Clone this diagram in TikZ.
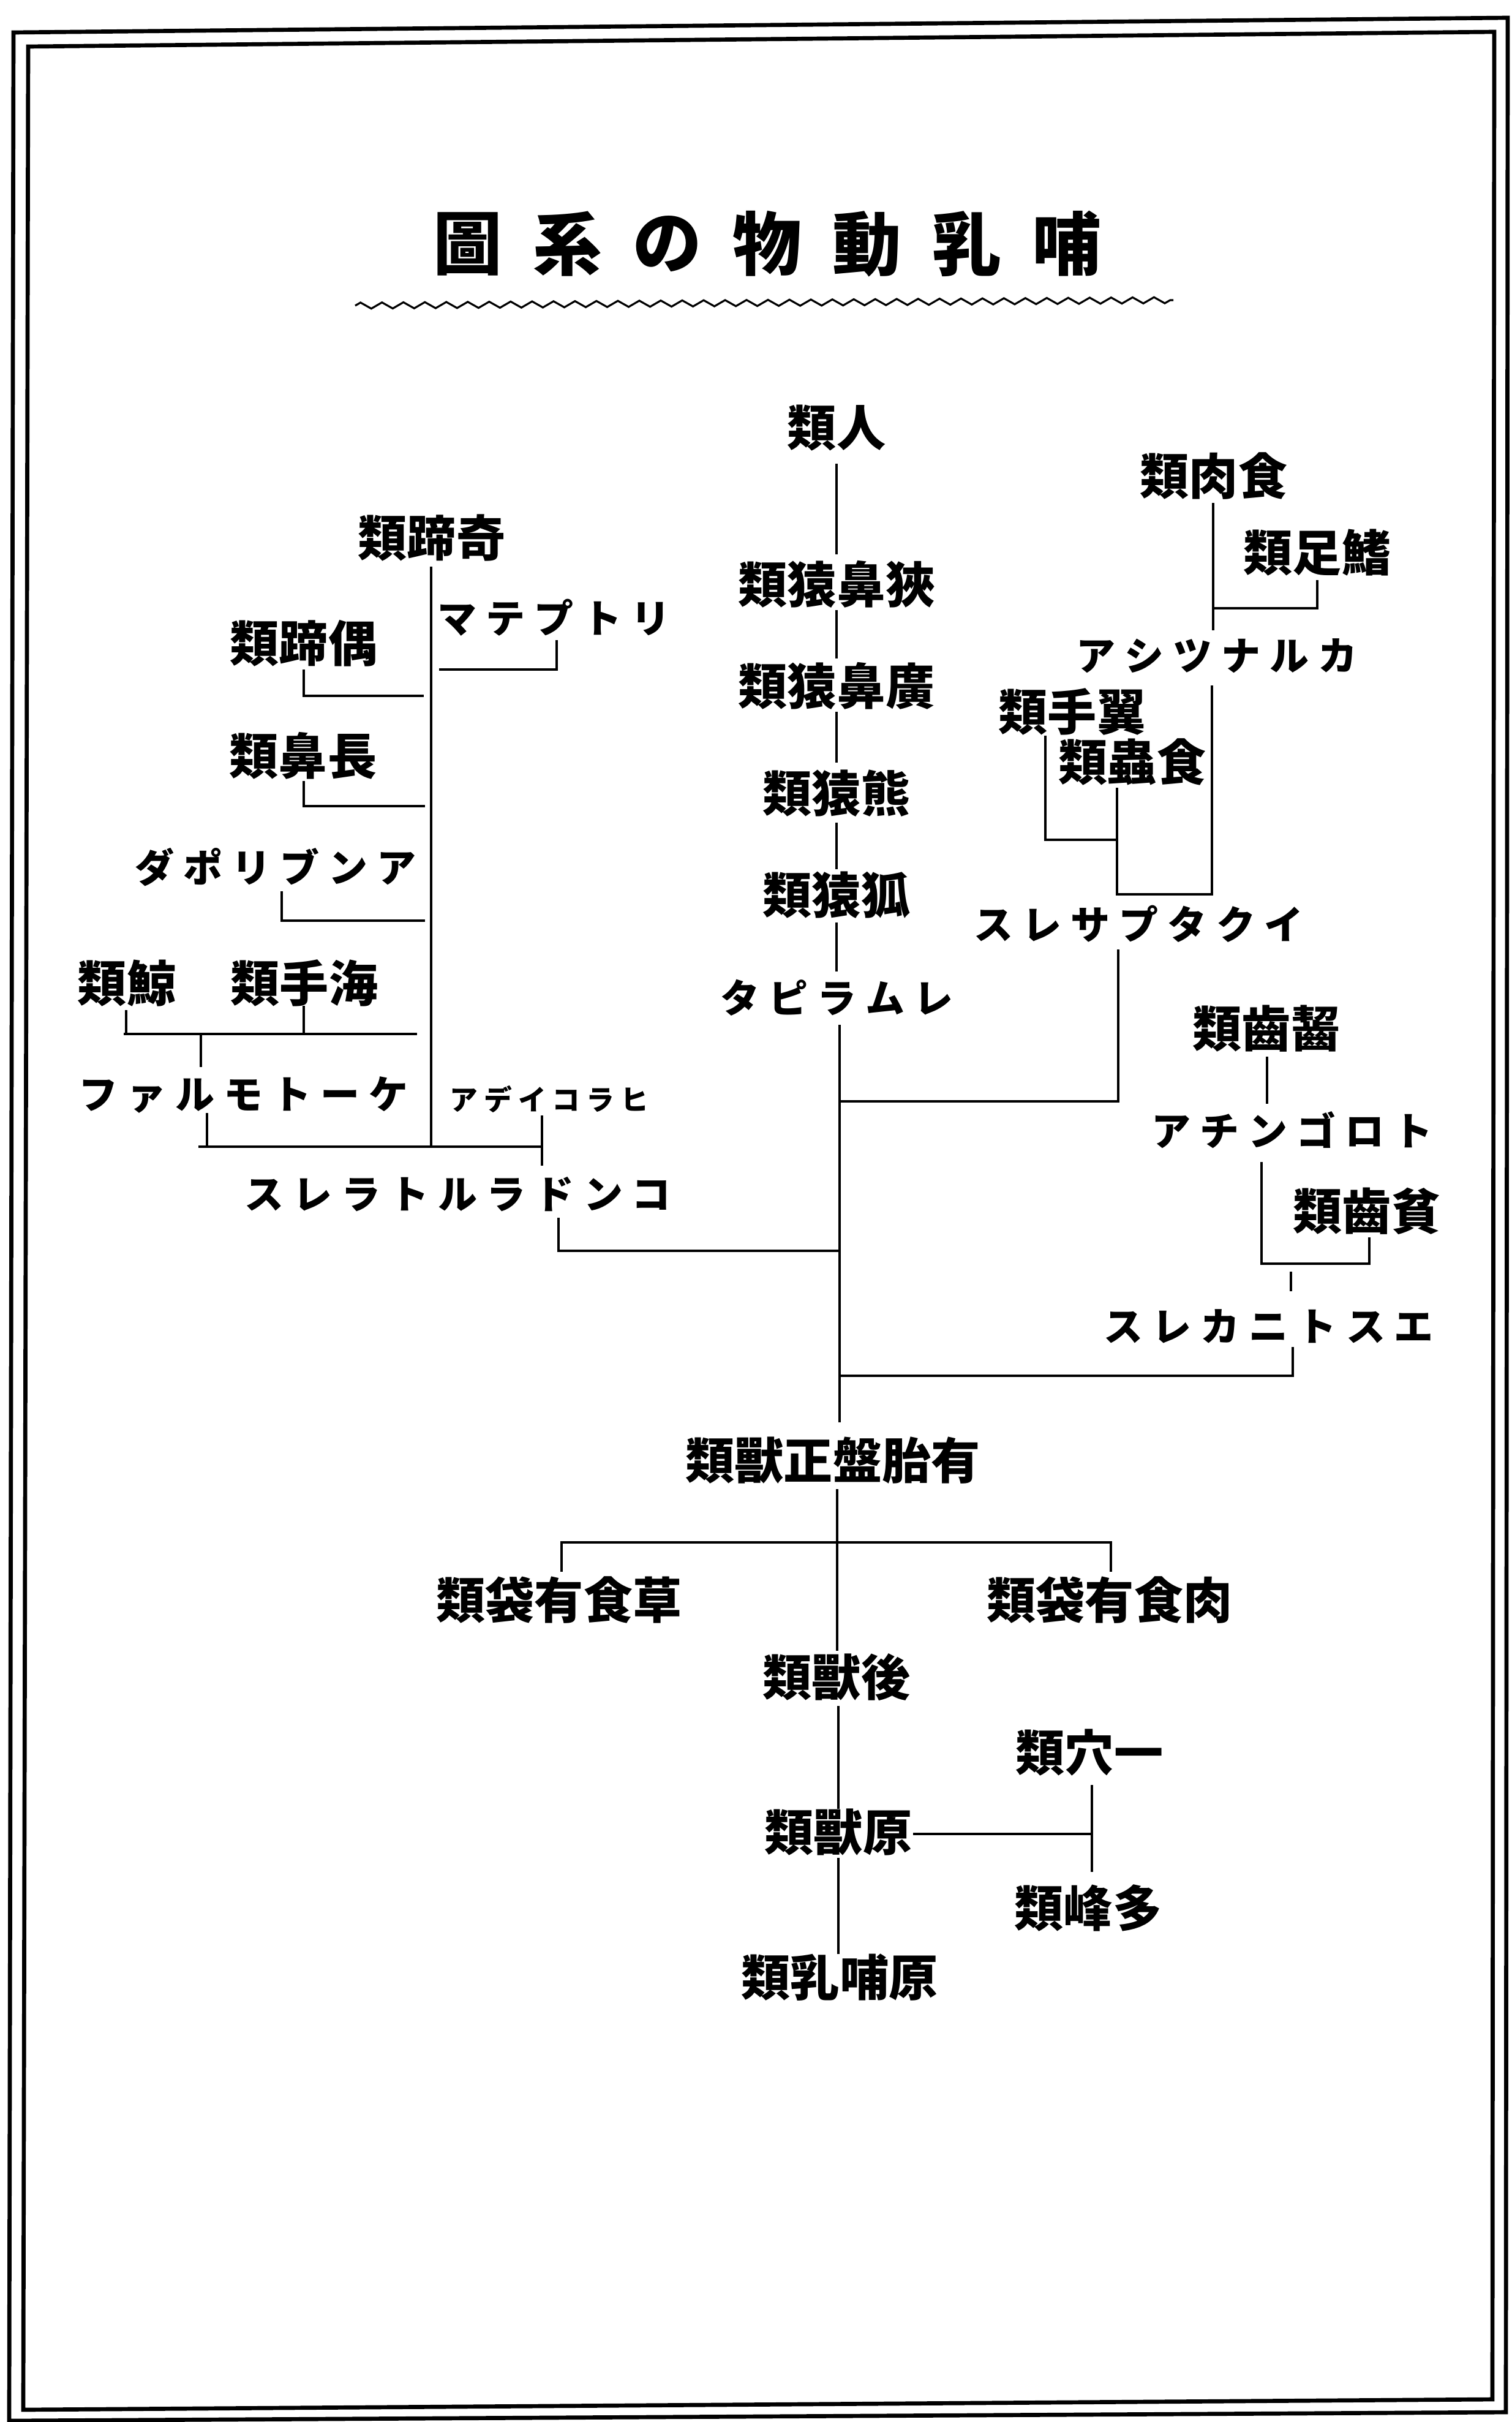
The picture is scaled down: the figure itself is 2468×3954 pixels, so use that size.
\documentclass[tikz,border=0pt]{standalone}
\usepackage{fontspec}
\newfontfamily\jp{Noto Sans CJK JP}
\usetikzlibrary{decorations.pathmorphing}
\newlength\kgap
\def\kloop#1{\ifx#1\relax\else#1\hskip\kgap\relax\expandafter\kloop\fi}
\newcommand\kana[2][0.15cm]{\setlength\kgap{#1}\kloop#2\relax\unskip}
\begin{document}
\begin{tikzpicture}[x=0.01cm,y=-0.01cm,
  conn/.style={line width=1.4pt},
  bord/.style={line width=1.9pt,line join=miter},
  kj/.style={font=\jp\bfseries\fontsize{22.8pt}{24pt}\selectfont,inner sep=0pt},
  kn/.style={font=\jp\bfseries\fontsize{18.2pt}{20pt}\selectfont,inner sep=0pt},
  ks/.style={font=\jp\bfseries\fontsize{13pt}{14pt}\selectfont,inner sep=0pt},
  tt/.style={font=\jp\bfseries\fontsize{32pt}{34pt}\selectfont,inner sep=0pt}]
\useasboundingbox (0,0) rectangle (2468,3954);
% double border
\draw[bord] (22,53) -- (2462,29) -- (2459,3938) -- (15,3952) -- cycle;
\draw[bord] (46,76) -- (2440,52) -- (2437,3917) -- (38,3934) -- cycle;
% title
\node[tt] (t1) at (764,398) {圖};
\node[tt] (t2) at (927,398) {系};
\node[tt] (t3) at (1090,398) {の};
\node[tt] (t4) at (1253,398) {物};
\node[tt] (t5) at (1416,398) {動};
\node[tt] (t6) at (1579,398) {乳};
\node[tt] (t7) at (1742,398) {哺};
\draw[line width=0.9pt,decorate,decoration={zigzag,amplitude=0.05cm,segment length=0.35cm}] (580,499) -- (1916,490);
% centre column
\node[kj] (ren) at (1366,699) {類人};
\node[kj] (xia) at (1366,954) {類猿鼻狹};
\node[kj] (guang) at (1366,1120) {類猿鼻廣};
\node[kj] (xiong) at (1366,1295) {類猿熊};
\node[kj] (hu) at (1366,1461) {類猿狐};
\node[kn] (lemu) at (1367,1629) {\kana{タピラムレ}};
\draw[conn] (1366,757) -- (1366,905);
\draw[conn] (1366,996) -- (1366,1075);
\draw[conn] (1366,1162) -- (1366,1245);
\draw[conn] (1366,1343) -- (1366,1419);
\draw[conn] (1366,1506) -- (1366,1586);
\coordinate (jA) at (1371,1798);
\coordinate (jB) at (1371,2042);
\coordinate (jC) at (1371,2246);
\draw[conn] (1371,1673) -- (jA) -- (jB) -- (jC) -- (1371,2322);
% left group
\node[kj] (qiti) at (705,878) {類蹄奇};
\node[kn] (lito) at (905,1008) {\kana{マテプトリ}};
\node[kj] (outi) at (496,1050) {類蹄偶};
\node[kj] (chobi) at (495,1234) {類鼻長};
\node[kn] (ambly) at (450,1416) {\kana{ダポリブンア}};
\node[kj] (kujira) at (207,1605) {類鯨};
\node[kj] (kaishu) at (497,1605) {類手海};
\node[kn] (ceto) at (398,1787) {\kana{ファルモトーケ}};
\node[ks] (hyra) at (897,1794) {\kana[0.1cm]{アデイコラヒ}};
\node[kn] (condy) at (748,1950) {\kana{スレラトルラドンコ}};
\draw[conn] (704,925) -- (704,1872);
\draw[conn] (909,1045) -- (909,1093) -- (717,1093);
\draw[conn] (496,1093) -- (496,1136) -- (692,1136);
\draw[conn] (496,1275) -- (496,1316) -- (694,1316);
\draw[conn] (460,1455) -- (460,1503) -- (694,1503);
\draw[conn] (206,1649) -- (206,1688);
\draw[conn] (496,1642) -- (496,1688);
\draw[conn] (202,1688) -- (681,1688);
\draw[conn] (328,1688) -- (328,1742);
\draw[conn] (338,1817) -- (338,1872);
\draw[conn] (324,1872) -- (885,1872);
\draw[conn] (885,1821) -- (885,1903);
\draw[conn] (912,1988) -- (912,2042) -- (jB);
% right group
\node[kj] (shokuniku) at (1982,777) {類肉食};
\node[kj] (kisoku) at (2151,902) {類足鰭};
\node[kn] (carna) at (1987,1071) {\kana{アシツナルカ}};
\node[kj] (yokushu) at (1751,1162) {類手翼};
\node[kj] (shokuchu) at (1849,1244) {類蟲食};
\node[kn] (ictop) at (1860,1508) {\kana{スレサプタクイ}};
\node[kj] (gesshi) at (2068,1679) {類齒齧};
\node[kn] (trogon) at (2110,1845) {\kana{アチンゴロト}};
\node[kj] (hinshi) at (2232,1977) {類齒貧};
\node[kn] (esto) at (2072,2165) {\kana{スレカニトスエ}};
\draw[conn] (1981,821) -- (1981,1029);
\draw[conn] (2151,947) -- (2151,993) -- (1981,993);
\draw[conn] (1979,1119) -- (1979,1460) -- (1824,1460);
\draw[conn] (1824,1286) -- (1824,1462);
\draw[conn] (1707,1201) -- (1707,1371) -- (1824,1371);
\draw[conn] (1826,1550) -- (1826,1798) -- (jA);
\draw[conn] (2069,1725) -- (2069,1802);
\draw[conn] (2060,1897) -- (2060,2063) -- (2236,2063) -- (2236,2020);
\draw[conn] (2108,2076) -- (2108,2108);
\draw[conn] (2111,2199) -- (2111,2246) -- (jC);
% bottom
\node[kj] (yutai) at (1360,2384) {類獸正盤胎有};
\node[kj] (soushoku) at (913,2612) {類袋有食草};
\node[kj] (nikushoku) at (1812,2612) {類袋有食肉};
\node[kj] (kouju) at (1366,2738) {類獸後};
\node[kj] (ikketsu) at (1779,2861) {類穴一};
\node[kj] (genju) at (1369,2991) {類獸原};
\node[kj] (tahou) at (1777,3115) {類峰多};
\node[kj] (genho) at (1371,3228) {類乳哺原};
\coordinate (jD) at (1367,2518);
\draw[conn] (1367,2431) -- (jD) -- (1367,2695);
\draw[conn] (917,2566) -- (917,2518) -- (1814,2518) -- (1814,2566);
\draw[conn] (1369,2785) -- (1369,2953);
\draw[conn] (1783,2914) -- (1783,3056);
\draw[conn] (1491,2994) -- (1783,2994);
\draw[conn] (1369,3033) -- (1369,3190);
\end{tikzpicture}
\end{document}
